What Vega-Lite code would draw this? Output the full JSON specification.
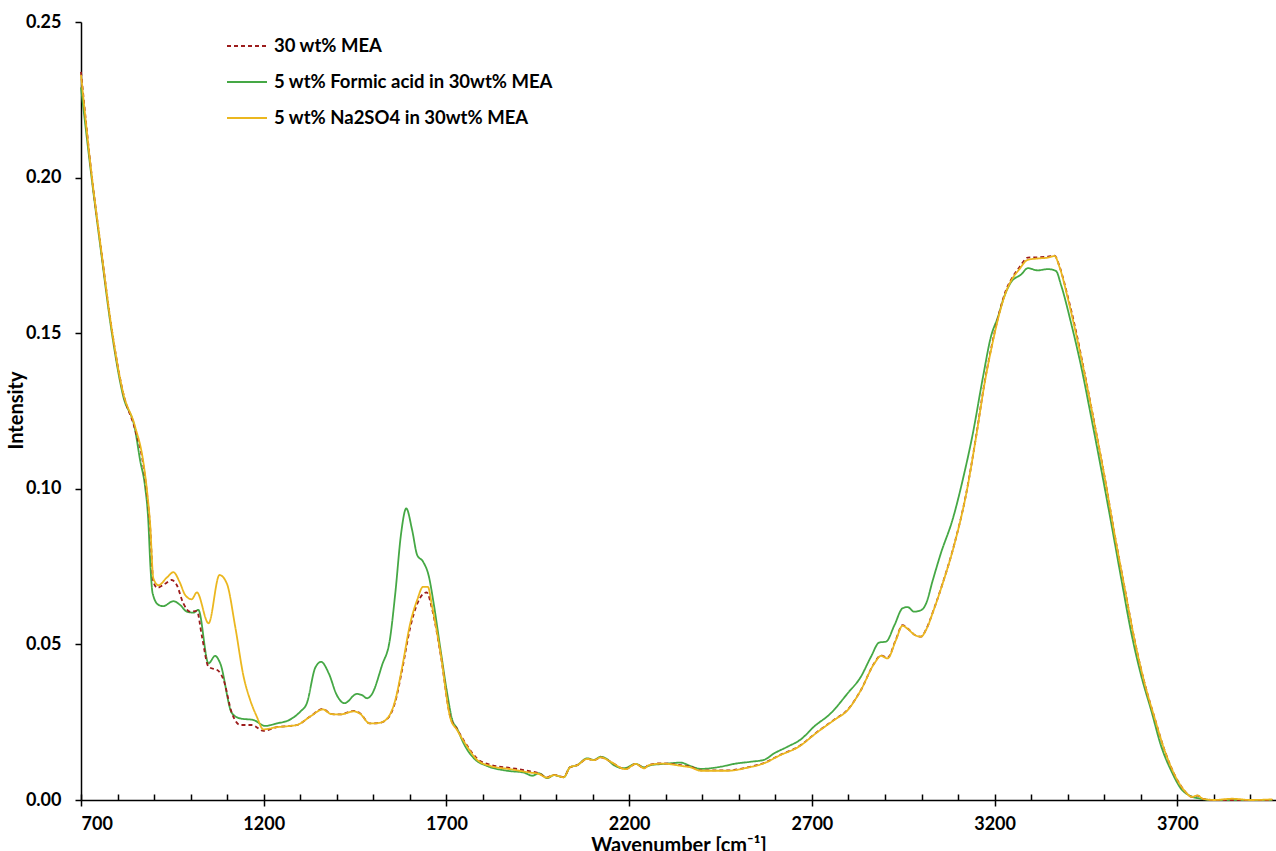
{
  "$schema": "https://vega.github.io/schema/vega-lite/v6.json",
  "width": 1195,
  "height": 778,
  "autosize": {"type": "none"},
  "padding": {"left": 81, "top": 22, "right": 0, "bottom": 51},
  "background": "white",
  "config": {
    "view": {"stroke": null},
    "font": "Lato",
    "axis": {"labelFont": "Lato", "labelFontWeight": "bold", "labelFontSize": 18, "labelColor": "black", "titleFont": "Lato", "titleFontWeight": "bold", "titleColor": "black", "grid": false, "domainColor": "black", "tickColor": "black"},
    "legend": {"labelFont": "Lato", "labelFontWeight": "bold", "labelFontSize": 18.5, "labelColor": "black", "labelLimit": 0}
  },
  "data": {"values": [
    {"s":"5 wt% Formic acid in 30wt% MEA","x":700,"y":0.229},{"s":"5 wt% Formic acid in 30wt% MEA","x":730,"y":0.199},{"s":"5 wt% Formic acid in 30wt% MEA","x":755,"y":0.176},{"s":"5 wt% Formic acid in 30wt% MEA","x":782,"y":0.152},{"s":"5 wt% Formic acid in 30wt% MEA","x":815,"y":0.130},{"s":"5 wt% Formic acid in 30wt% MEA","x":848,"y":0.119},{"s":"5 wt% Formic acid in 30wt% MEA","x":862,"y":0.109},{"s":"5 wt% Formic acid in 30wt% MEA","x":875,"y":0.101},{"s":"5 wt% Formic acid in 30wt% MEA","x":884,"y":0.090},{"s":"5 wt% Formic acid in 30wt% MEA","x":890,"y":0.075},{"s":"5 wt% Formic acid in 30wt% MEA","x":896,"y":0.0664},{"s":"5 wt% Formic acid in 30wt% MEA","x":912,"y":0.0627},{"s":"5 wt% Formic acid in 30wt% MEA","x":925,"y":0.0623},{"s":"5 wt% Formic acid in 30wt% MEA","x":953,"y":0.0639},{"s":"5 wt% Formic acid in 30wt% MEA","x":971,"y":0.0627},{"s":"5 wt% Formic acid in 30wt% MEA","x":990,"y":0.0605},{"s":"5 wt% Formic acid in 30wt% MEA","x":1008,"y":0.0602},{"s":"5 wt% Formic acid in 30wt% MEA","x":1021,"y":0.0611},{"s":"5 wt% Formic acid in 30wt% MEA","x":1049,"y":0.0439},{"s":"5 wt% Formic acid in 30wt% MEA","x":1067,"y":0.0463},{"s":"5 wt% Formic acid in 30wt% MEA","x":1081,"y":0.0439},{"s":"5 wt% Formic acid in 30wt% MEA","x":1113,"y":0.0279},{"s":"5 wt% Formic acid in 30wt% MEA","x":1136,"y":0.0262},{"s":"5 wt% Formic acid in 30wt% MEA","x":1172,"y":0.0257},{"s":"5 wt% Formic acid in 30wt% MEA","x":1204,"y":0.0238},{"s":"5 wt% Formic acid in 30wt% MEA","x":1236,"y":0.0246},{"s":"5 wt% Formic acid in 30wt% MEA","x":1273,"y":0.0259},{"s":"5 wt% Formic acid in 30wt% MEA","x":1300,"y":0.0284},{"s":"5 wt% Formic acid in 30wt% MEA","x":1318,"y":0.0311},{"s":"5 wt% Formic acid in 30wt% MEA","x":1341,"y":0.0425},{"s":"5 wt% Formic acid in 30wt% MEA","x":1357,"y":0.0444},{"s":"5 wt% Formic acid in 30wt% MEA","x":1378,"y":0.0407},{"s":"5 wt% Formic acid in 30wt% MEA","x":1400,"y":0.0337},{"s":"5 wt% Formic acid in 30wt% MEA","x":1421,"y":0.0311},{"s":"5 wt% Formic acid in 30wt% MEA","x":1455,"y":0.0341},{"s":"5 wt% Formic acid in 30wt% MEA","x":1469,"y":0.0337},{"s":"5 wt% Formic acid in 30wt% MEA","x":1483,"y":0.0327},{"s":"5 wt% Formic acid in 30wt% MEA","x":1496,"y":0.0340},{"s":"5 wt% Formic acid in 30wt% MEA","x":1524,"y":0.0434},{"s":"5 wt% Formic acid in 30wt% MEA","x":1545,"y":0.0514},{"s":"5 wt% Formic acid in 30wt% MEA","x":1560,"y":0.0664},{"s":"5 wt% Formic acid in 30wt% MEA","x":1576,"y":0.0857},{"s":"5 wt% Formic acid in 30wt% MEA","x":1590,"y":0.0937},{"s":"5 wt% Formic acid in 30wt% MEA","x":1606,"y":0.0868},{"s":"5 wt% Formic acid in 30wt% MEA","x":1620,"y":0.0787},{"s":"5 wt% Formic acid in 30wt% MEA","x":1636,"y":0.0766},{"s":"5 wt% Formic acid in 30wt% MEA","x":1652,"y":0.0718},{"s":"5 wt% Formic acid in 30wt% MEA","x":1665,"y":0.0632},{"s":"5 wt% Formic acid in 30wt% MEA","x":1684,"y":0.0482},{"s":"5 wt% Formic acid in 30wt% MEA","x":1702,"y":0.0343},{"s":"5 wt% Formic acid in 30wt% MEA","x":1716,"y":0.0257},{"s":"5 wt% Formic acid in 30wt% MEA","x":1729,"y":0.0230},{"s":"5 wt% Formic acid in 30wt% MEA","x":1747,"y":0.0182},{"s":"5 wt% Formic acid in 30wt% MEA","x":1775,"y":0.0134},{"s":"5 wt% Formic acid in 30wt% MEA","x":1812,"y":0.0109},{"s":"5 wt% Formic acid in 30wt% MEA","x":1866,"y":0.0094},{"s":"5 wt% Formic acid in 30wt% MEA","x":1912,"y":0.0088},{"s":"5 wt% Formic acid in 30wt% MEA","x":1935,"y":0.0078},{"s":"5 wt% Formic acid in 30wt% MEA","x":1953,"y":0.0086},{"s":"5 wt% Formic acid in 30wt% MEA","x":1976,"y":0.0070},{"s":"5 wt% Formic acid in 30wt% MEA","x":1994,"y":0.0080},{"s":"5 wt% Formic acid in 30wt% MEA","x":2021,"y":0.0073},{"s":"5 wt% Formic acid in 30wt% MEA","x":2038,"y":0.0105},{"s":"5 wt% Formic acid in 30wt% MEA","x":2058,"y":0.0112},{"s":"5 wt% Formic acid in 30wt% MEA","x":2085,"y":0.0134},{"s":"5 wt% Formic acid in 30wt% MEA","x":2104,"y":0.0129},{"s":"5 wt% Formic acid in 30wt% MEA","x":2122,"y":0.0139},{"s":"5 wt% Formic acid in 30wt% MEA","x":2136,"y":0.0134},{"s":"5 wt% Formic acid in 30wt% MEA","x":2158,"y":0.0112},{"s":"5 wt% Formic acid in 30wt% MEA","x":2186,"y":0.0102},{"s":"5 wt% Formic acid in 30wt% MEA","x":2218,"y":0.0116},{"s":"5 wt% Formic acid in 30wt% MEA","x":2241,"y":0.0105},{"s":"5 wt% Formic acid in 30wt% MEA","x":2259,"y":0.0112},{"s":"5 wt% Formic acid in 30wt% MEA","x":2295,"y":0.0116},{"s":"5 wt% Formic acid in 30wt% MEA","x":2341,"y":0.0120},{"s":"5 wt% Formic acid in 30wt% MEA","x":2368,"y":0.0109},{"s":"5 wt% Formic acid in 30wt% MEA","x":2396,"y":0.0100},{"s":"5 wt% Formic acid in 30wt% MEA","x":2451,"y":0.0107},{"s":"5 wt% Formic acid in 30wt% MEA","x":2487,"y":0.0116},{"s":"5 wt% Formic acid in 30wt% MEA","x":2533,"y":0.0123},{"s":"5 wt% Formic acid in 30wt% MEA","x":2569,"y":0.0129},{"s":"5 wt% Formic acid in 30wt% MEA","x":2597,"y":0.0150},{"s":"5 wt% Formic acid in 30wt% MEA","x":2633,"y":0.0171},{"s":"5 wt% Formic acid in 30wt% MEA","x":2670,"y":0.0195},{"s":"5 wt% Formic acid in 30wt% MEA","x":2706,"y":0.0236},{"s":"5 wt% Formic acid in 30wt% MEA","x":2752,"y":0.0279},{"s":"5 wt% Formic acid in 30wt% MEA","x":2798,"y":0.0343},{"s":"5 wt% Formic acid in 30wt% MEA","x":2834,"y":0.0396},{"s":"5 wt% Formic acid in 30wt% MEA","x":2862,"y":0.0461},{"s":"5 wt% Formic acid in 30wt% MEA","x":2884,"y":0.0506},{"s":"5 wt% Formic acid in 30wt% MEA","x":2903,"y":0.0509},{"s":"5 wt% Formic acid in 30wt% MEA","x":2926,"y":0.0562},{"s":"5 wt% Formic acid in 30wt% MEA","x":2948,"y":0.0616},{"s":"5 wt% Formic acid in 30wt% MEA","x":2962,"y":0.0620},{"s":"5 wt% Formic acid in 30wt% MEA","x":2980,"y":0.0605},{"s":"5 wt% Formic acid in 30wt% MEA","x":2999,"y":0.0610},{"s":"5 wt% Formic acid in 30wt% MEA","x":3012,"y":0.0630},{"s":"5 wt% Formic acid in 30wt% MEA","x":3031,"y":0.0707},{"s":"5 wt% Formic acid in 30wt% MEA","x":3053,"y":0.0793},{"s":"5 wt% Formic acid in 30wt% MEA","x":3085,"y":0.0901},{"s":"5 wt% Formic acid in 30wt% MEA","x":3117,"y":0.1050},{"s":"5 wt% Formic acid in 30wt% MEA","x":3140,"y":0.1175},{"s":"5 wt% Formic acid in 30wt% MEA","x":3168,"y":0.1358},{"s":"5 wt% Formic acid in 30wt% MEA","x":3190,"y":0.1489},{"s":"5 wt% Formic acid in 30wt% MEA","x":3209,"y":0.1552},{"s":"5 wt% Formic acid in 30wt% MEA","x":3227,"y":0.1620},{"s":"5 wt% Formic acid in 30wt% MEA","x":3245,"y":0.1664},{"s":"5 wt% Formic acid in 30wt% MEA","x":3273,"y":0.1689},{"s":"5 wt% Formic acid in 30wt% MEA","x":3291,"y":0.1709},{"s":"5 wt% Formic acid in 30wt% MEA","x":3318,"y":0.1702},{"s":"5 wt% Formic acid in 30wt% MEA","x":3346,"y":0.1706},{"s":"5 wt% Formic acid in 30wt% MEA","x":3368,"y":0.1700},{"s":"5 wt% Formic acid in 30wt% MEA","x":3382,"y":0.1654},{"s":"5 wt% Formic acid in 30wt% MEA","x":3410,"y":0.1529},{"s":"5 wt% Formic acid in 30wt% MEA","x":3437,"y":0.1392},{"s":"5 wt% Formic acid in 30wt% MEA","x":3464,"y":0.1232},{"s":"5 wt% Formic acid in 30wt% MEA","x":3492,"y":0.1061},{"s":"5 wt% Formic acid in 30wt% MEA","x":3519,"y":0.0890},{"s":"5 wt% Formic acid in 30wt% MEA","x":3547,"y":0.0708},{"s":"5 wt% Formic acid in 30wt% MEA","x":3574,"y":0.0537},{"s":"5 wt% Formic acid in 30wt% MEA","x":3601,"y":0.0400},{"s":"5 wt% Formic acid in 30wt% MEA","x":3629,"y":0.0286},{"s":"5 wt% Formic acid in 30wt% MEA","x":3656,"y":0.0172},{"s":"5 wt% Formic acid in 30wt% MEA","x":3684,"y":0.0092},{"s":"5 wt% Formic acid in 30wt% MEA","x":3711,"y":0.0035},{"s":"5 wt% Formic acid in 30wt% MEA","x":3738,"y":0.0012},{"s":"5 wt% Formic acid in 30wt% MEA","x":3760,"y":0.0005},{"s":"5 wt% Formic acid in 30wt% MEA","x":3800,"y":0.0},{"s":"5 wt% Formic acid in 30wt% MEA","x":3900,"y":0.0},{"s":"5 wt% Formic acid in 30wt% MEA","x":3960,"y":0.0},

    {"s":"30 wt% MEA","x":700,"y":0.234},{"s":"30 wt% MEA","x":730,"y":0.200},{"s":"30 wt% MEA","x":755,"y":0.177},{"s":"30 wt% MEA","x":782,"y":0.153},{"s":"30 wt% MEA","x":815,"y":0.131},{"s":"30 wt% MEA","x":848,"y":0.119},{"s":"30 wt% MEA","x":870,"y":0.108},{"s":"30 wt% MEA","x":881,"y":0.098},{"s":"30 wt% MEA","x":889,"y":0.088},{"s":"30 wt% MEA","x":898,"y":0.0701},{"s":"30 wt% MEA","x":909,"y":0.0682},{"s":"30 wt% MEA","x":930,"y":0.0695},{"s":"30 wt% MEA","x":948,"y":0.0707},{"s":"30 wt% MEA","x":962,"y":0.0691},{"s":"30 wt% MEA","x":980,"y":0.0632},{"s":"30 wt% MEA","x":999,"y":0.0605},{"s":"30 wt% MEA","x":1017,"y":0.0608},{"s":"30 wt% MEA","x":1031,"y":0.0525},{"s":"30 wt% MEA","x":1049,"y":0.0428},{"s":"30 wt% MEA","x":1076,"y":0.0415},{"s":"30 wt% MEA","x":1090,"y":0.0386},{"s":"30 wt% MEA","x":1113,"y":0.0279},{"s":"30 wt% MEA","x":1136,"y":0.0241},{"s":"30 wt% MEA","x":1168,"y":0.0241},{"s":"30 wt% MEA","x":1199,"y":0.0222},{"s":"30 wt% MEA","x":1236,"y":0.0234},{"s":"30 wt% MEA","x":1273,"y":0.0238},{"s":"30 wt% MEA","x":1291,"y":0.0241},{"s":"30 wt% MEA","x":1327,"y":0.0268},{"s":"30 wt% MEA","x":1362,"y":0.0293},{"s":"30 wt% MEA","x":1385,"y":0.0276},{"s":"30 wt% MEA","x":1410,"y":0.0275},{"s":"30 wt% MEA","x":1446,"y":0.0286},{"s":"30 wt% MEA","x":1464,"y":0.0278},{"s":"30 wt% MEA","x":1490,"y":0.0246},{"s":"30 wt% MEA","x":1517,"y":0.0248},{"s":"30 wt% MEA","x":1542,"y":0.0266},{"s":"30 wt% MEA","x":1560,"y":0.0316},{"s":"30 wt% MEA","x":1579,"y":0.0420},{"s":"30 wt% MEA","x":1601,"y":0.0555},{"s":"30 wt% MEA","x":1620,"y":0.0630},{"s":"30 wt% MEA","x":1636,"y":0.0662},{"s":"30 wt% MEA","x":1646,"y":0.0667},{"s":"30 wt% MEA","x":1661,"y":0.0612},{"s":"30 wt% MEA","x":1684,"y":0.0468},{"s":"30 wt% MEA","x":1711,"y":0.0265},{"s":"30 wt% MEA","x":1729,"y":0.0228},{"s":"30 wt% MEA","x":1757,"y":0.0174},{"s":"30 wt% MEA","x":1784,"y":0.0133},{"s":"30 wt% MEA","x":1821,"y":0.0113},{"s":"30 wt% MEA","x":1875,"y":0.0103},{"s":"30 wt% MEA","x":1930,"y":0.0092},{"s":"30 wt% MEA","x":1950,"y":0.0087},{"s":"30 wt% MEA","x":1976,"y":0.0073},{"s":"30 wt% MEA","x":1994,"y":0.0081},{"s":"30 wt% MEA","x":2021,"y":0.0074},{"s":"30 wt% MEA","x":2038,"y":0.0105},{"s":"30 wt% MEA","x":2058,"y":0.0112},{"s":"30 wt% MEA","x":2085,"y":0.0132},{"s":"30 wt% MEA","x":2104,"y":0.0128},{"s":"30 wt% MEA","x":2122,"y":0.0137},{"s":"30 wt% MEA","x":2149,"y":0.0123},{"s":"30 wt% MEA","x":2190,"y":0.0099},{"s":"30 wt% MEA","x":2218,"y":0.0116},{"s":"30 wt% MEA","x":2241,"y":0.0103},{"s":"30 wt% MEA","x":2254,"y":0.0113},{"s":"30 wt% MEA","x":2291,"y":0.0118},{"s":"30 wt% MEA","x":2346,"y":0.0111},{"s":"30 wt% MEA","x":2368,"y":0.0107},{"s":"30 wt% MEA","x":2396,"y":0.0095},{"s":"30 wt% MEA","x":2469,"y":0.0095},{"s":"30 wt% MEA","x":2524,"y":0.0105},{"s":"30 wt% MEA","x":2569,"y":0.0119},{"s":"30 wt% MEA","x":2615,"y":0.0146},{"s":"30 wt% MEA","x":2661,"y":0.0170},{"s":"30 wt% MEA","x":2716,"y":0.0220},{"s":"30 wt% MEA","x":2761,"y":0.0258},{"s":"30 wt% MEA","x":2798,"y":0.0290},{"s":"30 wt% MEA","x":2834,"y":0.0353},{"s":"30 wt% MEA","x":2871,"y":0.0440},{"s":"30 wt% MEA","x":2889,"y":0.0465},{"s":"30 wt% MEA","x":2907,"y":0.0457},{"s":"30 wt% MEA","x":2930,"y":0.0516},{"s":"30 wt% MEA","x":2948,"y":0.0562},{"s":"30 wt% MEA","x":2962,"y":0.0551},{"s":"30 wt% MEA","x":2985,"y":0.0528},{"s":"30 wt% MEA","x":2999,"y":0.0525},{"s":"30 wt% MEA","x":3012,"y":0.0547},{"s":"30 wt% MEA","x":3035,"y":0.0617},{"s":"30 wt% MEA","x":3058,"y":0.0697},{"s":"30 wt% MEA","x":3090,"y":0.0823},{"s":"30 wt% MEA","x":3122,"y":0.0983},{"s":"30 wt% MEA","x":3149,"y":0.1166},{"s":"30 wt% MEA","x":3172,"y":0.1338},{"s":"30 wt% MEA","x":3195,"y":0.1476},{"s":"30 wt% MEA","x":3213,"y":0.1567},{"s":"30 wt% MEA","x":3231,"y":0.1638},{"s":"30 wt% MEA","x":3245,"y":0.1672},{"s":"30 wt% MEA","x":3268,"y":0.1712},{"s":"30 wt% MEA","x":3291,"y":0.1743},{"s":"30 wt% MEA","x":3318,"y":0.1744},{"s":"30 wt% MEA","x":3346,"y":0.1746},{"s":"30 wt% MEA","x":3364,"y":0.1749},{"s":"30 wt% MEA","x":3378,"y":0.1713},{"s":"30 wt% MEA","x":3401,"y":0.1614},{"s":"30 wt% MEA","x":3419,"y":0.1526},{"s":"30 wt% MEA","x":3446,"y":0.1373},{"s":"30 wt% MEA","x":3473,"y":0.1211},{"s":"30 wt% MEA","x":3501,"y":0.1038},{"s":"30 wt% MEA","x":3528,"y":0.0856},{"s":"30 wt% MEA","x":3557,"y":0.0674},{"s":"30 wt% MEA","x":3583,"y":0.0514},{"s":"30 wt% MEA","x":3610,"y":0.0377},{"s":"30 wt% MEA","x":3638,"y":0.0263},{"s":"30 wt% MEA","x":3665,"y":0.0160},{"s":"30 wt% MEA","x":3693,"y":0.0080},{"s":"30 wt% MEA","x":3720,"y":0.0029},{"s":"30 wt% MEA","x":3740,"y":0.0010},{"s":"30 wt% MEA","x":3755,"y":0.0014},{"s":"30 wt% MEA","x":3770,"y":0.0004},{"s":"30 wt% MEA","x":3800,"y":0.0},{"s":"30 wt% MEA","x":3900,"y":0.0},{"s":"30 wt% MEA","x":3960,"y":0.0},

    {"s":"5 wt% Na2SO4 in 30wt% MEA","x":700,"y":0.233},{"s":"5 wt% Na2SO4 in 30wt% MEA","x":730,"y":0.200},{"s":"5 wt% Na2SO4 in 30wt% MEA","x":755,"y":0.177},{"s":"5 wt% Na2SO4 in 30wt% MEA","x":782,"y":0.153},{"s":"5 wt% Na2SO4 in 30wt% MEA","x":815,"y":0.131},{"s":"5 wt% Na2SO4 in 30wt% MEA","x":848,"y":0.120},{"s":"5 wt% Na2SO4 in 30wt% MEA","x":870,"y":0.109},{"s":"5 wt% Na2SO4 in 30wt% MEA","x":881,"y":0.099},{"s":"5 wt% Na2SO4 in 30wt% MEA","x":889,"y":0.089},{"s":"5 wt% Na2SO4 in 30wt% MEA","x":898,"y":0.0712},{"s":"5 wt% Na2SO4 in 30wt% MEA","x":912,"y":0.0690},{"s":"5 wt% Na2SO4 in 30wt% MEA","x":935,"y":0.0715},{"s":"5 wt% Na2SO4 in 30wt% MEA","x":953,"y":0.0732},{"s":"5 wt% Na2SO4 in 30wt% MEA","x":970,"y":0.0700},{"s":"5 wt% Na2SO4 in 30wt% MEA","x":985,"y":0.0659},{"s":"5 wt% Na2SO4 in 30wt% MEA","x":1003,"y":0.0645},{"s":"5 wt% Na2SO4 in 30wt% MEA","x":1017,"y":0.0667},{"s":"5 wt% Na2SO4 in 30wt% MEA","x":1049,"y":0.0568},{"s":"5 wt% Na2SO4 in 30wt% MEA","x":1079,"y":0.0723},{"s":"5 wt% Na2SO4 in 30wt% MEA","x":1099,"y":0.0696},{"s":"5 wt% Na2SO4 in 30wt% MEA","x":1122,"y":0.0557},{"s":"5 wt% Na2SO4 in 30wt% MEA","x":1145,"y":0.0396},{"s":"5 wt% Na2SO4 in 30wt% MEA","x":1163,"y":0.0321},{"s":"5 wt% Na2SO4 in 30wt% MEA","x":1181,"y":0.0268},{"s":"5 wt% Na2SO4 in 30wt% MEA","x":1199,"y":0.0227},{"s":"5 wt% Na2SO4 in 30wt% MEA","x":1236,"y":0.0234},{"s":"5 wt% Na2SO4 in 30wt% MEA","x":1273,"y":0.0238},{"s":"5 wt% Na2SO4 in 30wt% MEA","x":1291,"y":0.0241},{"s":"5 wt% Na2SO4 in 30wt% MEA","x":1327,"y":0.0268},{"s":"5 wt% Na2SO4 in 30wt% MEA","x":1362,"y":0.0291},{"s":"5 wt% Na2SO4 in 30wt% MEA","x":1385,"y":0.0276},{"s":"5 wt% Na2SO4 in 30wt% MEA","x":1410,"y":0.0275},{"s":"5 wt% Na2SO4 in 30wt% MEA","x":1446,"y":0.0285},{"s":"5 wt% Na2SO4 in 30wt% MEA","x":1464,"y":0.0277},{"s":"5 wt% Na2SO4 in 30wt% MEA","x":1490,"y":0.0246},{"s":"5 wt% Na2SO4 in 30wt% MEA","x":1517,"y":0.0248},{"s":"5 wt% Na2SO4 in 30wt% MEA","x":1542,"y":0.0268},{"s":"5 wt% Na2SO4 in 30wt% MEA","x":1560,"y":0.0321},{"s":"5 wt% Na2SO4 in 30wt% MEA","x":1579,"y":0.0428},{"s":"5 wt% Na2SO4 in 30wt% MEA","x":1601,"y":0.0568},{"s":"5 wt% Na2SO4 in 30wt% MEA","x":1620,"y":0.0643},{"s":"5 wt% Na2SO4 in 30wt% MEA","x":1636,"y":0.0685},{"s":"5 wt% Na2SO4 in 30wt% MEA","x":1649,"y":0.0685},{"s":"5 wt% Na2SO4 in 30wt% MEA","x":1661,"y":0.0621},{"s":"5 wt% Na2SO4 in 30wt% MEA","x":1684,"y":0.0471},{"s":"5 wt% Na2SO4 in 30wt% MEA","x":1711,"y":0.0262},{"s":"5 wt% Na2SO4 in 30wt% MEA","x":1729,"y":0.0225},{"s":"5 wt% Na2SO4 in 30wt% MEA","x":1757,"y":0.0171},{"s":"5 wt% Na2SO4 in 30wt% MEA","x":1784,"y":0.0129},{"s":"5 wt% Na2SO4 in 30wt% MEA","x":1821,"y":0.0109},{"s":"5 wt% Na2SO4 in 30wt% MEA","x":1875,"y":0.0099},{"s":"5 wt% Na2SO4 in 30wt% MEA","x":1930,"y":0.0088},{"s":"5 wt% Na2SO4 in 30wt% MEA","x":1950,"y":0.0085},{"s":"5 wt% Na2SO4 in 30wt% MEA","x":1976,"y":0.0072},{"s":"5 wt% Na2SO4 in 30wt% MEA","x":1994,"y":0.0080},{"s":"5 wt% Na2SO4 in 30wt% MEA","x":2021,"y":0.0073},{"s":"5 wt% Na2SO4 in 30wt% MEA","x":2038,"y":0.0105},{"s":"5 wt% Na2SO4 in 30wt% MEA","x":2058,"y":0.0112},{"s":"5 wt% Na2SO4 in 30wt% MEA","x":2085,"y":0.0132},{"s":"5 wt% Na2SO4 in 30wt% MEA","x":2104,"y":0.0128},{"s":"5 wt% Na2SO4 in 30wt% MEA","x":2122,"y":0.0137},{"s":"5 wt% Na2SO4 in 30wt% MEA","x":2149,"y":0.0123},{"s":"5 wt% Na2SO4 in 30wt% MEA","x":2190,"y":0.0099},{"s":"5 wt% Na2SO4 in 30wt% MEA","x":2218,"y":0.0116},{"s":"5 wt% Na2SO4 in 30wt% MEA","x":2241,"y":0.0102},{"s":"5 wt% Na2SO4 in 30wt% MEA","x":2254,"y":0.0112},{"s":"5 wt% Na2SO4 in 30wt% MEA","x":2291,"y":0.0117},{"s":"5 wt% Na2SO4 in 30wt% MEA","x":2346,"y":0.0109},{"s":"5 wt% Na2SO4 in 30wt% MEA","x":2368,"y":0.0105},{"s":"5 wt% Na2SO4 in 30wt% MEA","x":2396,"y":0.0094},{"s":"5 wt% Na2SO4 in 30wt% MEA","x":2469,"y":0.0094},{"s":"5 wt% Na2SO4 in 30wt% MEA","x":2524,"y":0.0104},{"s":"5 wt% Na2SO4 in 30wt% MEA","x":2569,"y":0.0118},{"s":"5 wt% Na2SO4 in 30wt% MEA","x":2615,"y":0.0145},{"s":"5 wt% Na2SO4 in 30wt% MEA","x":2661,"y":0.0169},{"s":"5 wt% Na2SO4 in 30wt% MEA","x":2716,"y":0.0219},{"s":"5 wt% Na2SO4 in 30wt% MEA","x":2761,"y":0.0257},{"s":"5 wt% Na2SO4 in 30wt% MEA","x":2798,"y":0.0289},{"s":"5 wt% Na2SO4 in 30wt% MEA","x":2834,"y":0.0353},{"s":"5 wt% Na2SO4 in 30wt% MEA","x":2871,"y":0.0439},{"s":"5 wt% Na2SO4 in 30wt% MEA","x":2889,"y":0.0463},{"s":"5 wt% Na2SO4 in 30wt% MEA","x":2907,"y":0.0455},{"s":"5 wt% Na2SO4 in 30wt% MEA","x":2930,"y":0.0514},{"s":"5 wt% Na2SO4 in 30wt% MEA","x":2948,"y":0.0560},{"s":"5 wt% Na2SO4 in 30wt% MEA","x":2962,"y":0.0550},{"s":"5 wt% Na2SO4 in 30wt% MEA","x":2985,"y":0.0528},{"s":"5 wt% Na2SO4 in 30wt% MEA","x":2999,"y":0.0525},{"s":"5 wt% Na2SO4 in 30wt% MEA","x":3012,"y":0.0546},{"s":"5 wt% Na2SO4 in 30wt% MEA","x":3035,"y":0.0616},{"s":"5 wt% Na2SO4 in 30wt% MEA","x":3058,"y":0.0696},{"s":"5 wt% Na2SO4 in 30wt% MEA","x":3090,"y":0.0822},{"s":"5 wt% Na2SO4 in 30wt% MEA","x":3122,"y":0.0982},{"s":"5 wt% Na2SO4 in 30wt% MEA","x":3149,"y":0.1164},{"s":"5 wt% Na2SO4 in 30wt% MEA","x":3172,"y":0.1335},{"s":"5 wt% Na2SO4 in 30wt% MEA","x":3195,"y":0.1472},{"s":"5 wt% Na2SO4 in 30wt% MEA","x":3213,"y":0.1563},{"s":"5 wt% Na2SO4 in 30wt% MEA","x":3231,"y":0.1632},{"s":"5 wt% Na2SO4 in 30wt% MEA","x":3245,"y":0.1668},{"s":"5 wt% Na2SO4 in 30wt% MEA","x":3268,"y":0.1706},{"s":"5 wt% Na2SO4 in 30wt% MEA","x":3291,"y":0.1736},{"s":"5 wt% Na2SO4 in 30wt% MEA","x":3318,"y":0.1740},{"s":"5 wt% Na2SO4 in 30wt% MEA","x":3346,"y":0.1743},{"s":"5 wt% Na2SO4 in 30wt% MEA","x":3364,"y":0.1748},{"s":"5 wt% Na2SO4 in 30wt% MEA","x":3378,"y":0.1711},{"s":"5 wt% Na2SO4 in 30wt% MEA","x":3401,"y":0.1609},{"s":"5 wt% Na2SO4 in 30wt% MEA","x":3419,"y":0.1518},{"s":"5 wt% Na2SO4 in 30wt% MEA","x":3446,"y":0.1370},{"s":"5 wt% Na2SO4 in 30wt% MEA","x":3473,"y":0.1210},{"s":"5 wt% Na2SO4 in 30wt% MEA","x":3501,"y":0.1038},{"s":"5 wt% Na2SO4 in 30wt% MEA","x":3528,"y":0.0856},{"s":"5 wt% Na2SO4 in 30wt% MEA","x":3557,"y":0.0674},{"s":"5 wt% Na2SO4 in 30wt% MEA","x":3583,"y":0.0514},{"s":"5 wt% Na2SO4 in 30wt% MEA","x":3610,"y":0.0377},{"s":"5 wt% Na2SO4 in 30wt% MEA","x":3638,"y":0.0263},{"s":"5 wt% Na2SO4 in 30wt% MEA","x":3665,"y":0.0160},{"s":"5 wt% Na2SO4 in 30wt% MEA","x":3693,"y":0.0080},{"s":"5 wt% Na2SO4 in 30wt% MEA","x":3720,"y":0.0029},{"s":"5 wt% Na2SO4 in 30wt% MEA","x":3740,"y":0.0010},{"s":"5 wt% Na2SO4 in 30wt% MEA","x":3755,"y":0.0015},{"s":"5 wt% Na2SO4 in 30wt% MEA","x":3770,"y":0.0004},{"s":"5 wt% Na2SO4 in 30wt% MEA","x":3800,"y":0.0},{"s":"5 wt% Na2SO4 in 30wt% MEA","x":3850,"y":0.0004},{"s":"5 wt% Na2SO4 in 30wt% MEA","x":3900,"y":0.0},{"s":"5 wt% Na2SO4 in 30wt% MEA","x":3960,"y":0.0002}
  ]},
  "encoding": {
    "y": {"field": "y", "type": "quantitative", "scale": {"domain": [0, 0.25], "nice": false, "zero": false},
      "axis": {"values": [0, 0.05, 0.1, 0.15, 0.2, 0.25], "format": ".2f", "tickSize": 6, "tickWidth": 1.5, "domainWidth": 1.5, "labelPadding": 14, "title": "Intensity", "titleFontSize": 20, "titleX": -55, "titleY": 388}}
  },
  "layer": [
    {
      "mark": {"type": "line", "strokeWidth": 1.8, "interpolate": "monotone"},
      "encoding": {
        "x": {"field": "x", "type": "quantitative", "scale": {"domain": [700, 3970], "nice": false, "zero": false},
          "axis": {"orient": "bottom", "values": [700, 1200, 1700, 2200, 2700, 3200, 3700], "format": "d", "tickSize": 6, "tickWidth": 1.5, "domainWidth": 1.5, "labelPadding": 9, "title": "Wavenumber [cm⁻¹]", "titleFontSize": 20, "titleY": 35}},
        "color": {"field": "s", "type": "nominal",
          "scale": {"domain": ["30 wt% MEA", "5 wt% Formic acid in 30wt% MEA", "5 wt% Na2SO4 in 30wt% MEA"], "range": ["#9C1C1C", "#45A845", "#EBB71F"]},
          "legend": {"title": null, "orient": "none", "legendX": 145, "legendY": 3, "symbolType": "stroke", "symbolSize": 1600, "symbolStrokeWidth": 2, "rowPadding": 5, "labelOffset": 6}},
        "strokeDash": {"field": "s", "type": "nominal",
          "scale": {"domain": ["30 wt% MEA", "5 wt% Formic acid in 30wt% MEA", "5 wt% Na2SO4 in 30wt% MEA"], "range": [[4, 3], [1, 0], [1, 0]]},
          "legend": {"title": null, "orient": "none", "legendX": 145, "legendY": 3, "symbolType": "stroke", "symbolSize": 1600, "symbolStrokeWidth": 2, "rowPadding": 5, "labelOffset": 6}}
      }
    },
    {
      "mark": {"type": "line", "opacity": 0},
      "encoding": {
        "x": {"field": "x", "type": "quantitative",
          "axis": {"orient": "bottom", "values": [700, 800, 900, 1000, 1100, 1200, 1300, 1400, 1500, 1600, 1700, 1800, 1900, 2000, 2100, 2200, 2300, 2400, 2500, 2600, 2700, 2800, 2900, 3000, 3100, 3200, 3300, 3400, 3500, 3600, 3700, 3800, 3900], "tickSize": -6, "tickWidth": 1.5, "labels": false, "domain": false, "title": null}},
        "detail": {"field": "s"}
      }
    }
  ],
  "resolve": {"axis": {"x": "independent"}}
}
